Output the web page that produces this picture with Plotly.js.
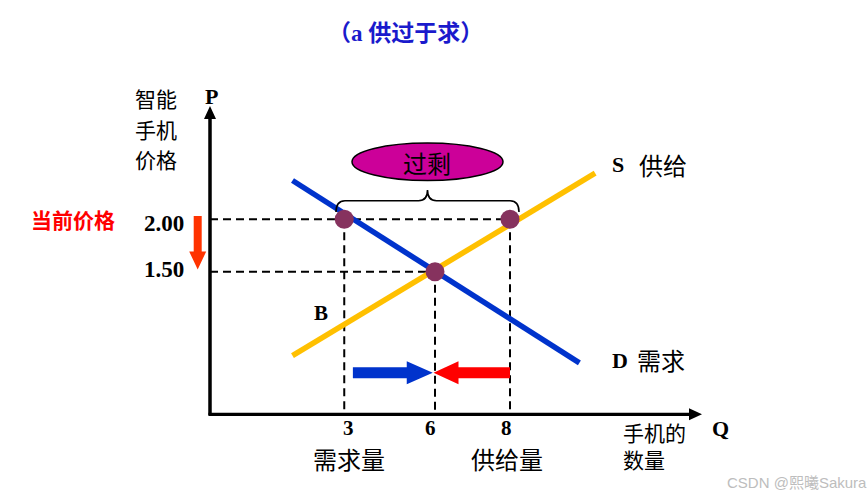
<!DOCTYPE html>
<html><head><meta charset="utf-8">
<script src="https://cdn.plot.ly/plotly-3.0.1.min.js"></script>
<style>html,body{margin:0;padding:0;background:#fff;}#chart{width:867px;height:498px;}</style>
</head><body><div id="chart"></div>
<script>
// ---- Data ----
const priceTickText = ['2.00', '1.50'];
const priceValues = [2.00, 1.50];          // current price, equilibrium price
const qTickText = ['3', '6', '8'];
const qValues = [3.58, 6, 8];              // quantity demanded, equilibrium quantity, quantity supplied (as drawn)
const demandX = [2.2, 9.85];
const demandY = [2.37, 0.63];
const supplyX = [2.2, 10.27];
const supplyY = [0.70, 2.44];
const pointX = [qValues[0], qValues[1], qValues[2]];
const pointY = [priceValues[0], priceValues[1], priceValues[0]];

// ---- Scale (full-figure plot area) ----
const W = 867, H = 498;
const XR = [-5.6, 17.52], YR = [-0.659, 4.0925];
const toPx = x => (x - XR[0]) / (XR[1] - XR[0]) * W;
const toPy = y => (YR[1] - y) / (YR[1] - YR[0]) * H;
const fromPx = px => XR[0] + px / W * (XR[1] - XR[0]);
const fromPy = py => YR[1] - py / H * (YR[1] - YR[0]);
const axisX0 = 0, axisY0 = fromPy(414.3);
const axisXEnd = fromPx(702), axisYEnd = fromPy(106);

// arrow polygon (data coords) from (x1,y1) to tip (x2,y2), sizes in px
function arrowPath(x1, y1, x2, y2, sh, hh, hl) {
  const a = [toPx(x1), toPy(y1)], b = [toPx(x2), toPy(y2)];
  const dx = b[0] - a[0], dy = b[1] - a[1], L = Math.hypot(dx, dy);
  const ux = dx / L, uy = dy / L, nx = -uy, ny = ux;
  const bx = b[0] - ux * hl, by = b[1] - uy * hl;
  const pts = [
    [a[0] + nx * sh, a[1] + ny * sh], [bx + nx * sh, by + ny * sh], [bx + nx * hh, by + ny * hh],
    b, [bx - nx * hh, by - ny * hh], [bx - nx * sh, by - ny * sh], [a[0] - nx * sh, a[1] - ny * sh]
  ];
  return 'M' + pts.map(p => fromPx(p[0]).toFixed(4) + ',' + fromPy(p[1]).toFixed(4)).join('L') + 'Z';
}

const serif = 'Liberation Serif, Times New Roman, Noto Sans CJK SC, serif';
const cjk = 'Noto Sans CJK SC, Liberation Serif, serif';

function ann(text, px, py, size, color, extra) {
  return Object.assign({
    text: text, xref: 'paper', yref: 'paper', x: px / W, y: 1 - py / H,
    xanchor: 'center', yanchor: 'middle', showarrow: false,
    font: { family: cjk, size: size, color: color || '#000' }
  }, extra || {});
}

const dash = { color: '#000', width: 2, dash: '8px,5px' };
const shapes = [];
// dashed guides
shapes.push({ type: 'line', layer: 'below', x0: axisX0, x1: qValues[2], y0: priceValues[0], y1: priceValues[0], line: dash });
shapes.push({ type: 'line', layer: 'below', x0: axisX0, x1: qValues[1], y0: priceValues[1], y1: priceValues[1], line: dash });
shapes.push({ type: 'line', layer: 'below', x0: qValues[0], x1: qValues[0], y0: priceValues[0], y1: axisY0, line: dash });
shapes.push({ type: 'line', layer: 'below', x0: qValues[1], x1: qValues[1], y0: priceValues[1], y1: axisY0, line: dash });
shapes.push({ type: 'line', layer: 'below', x0: qValues[2], x1: qValues[2], y0: priceValues[0], y1: axisY0, line: dash });
// axes with arrowheads
shapes.push({ type: 'path', path: arrowPath(axisX0, axisY0 - 0.01, axisX0, axisYEnd, 1.75, 6, 13), fillcolor: '#000', line: { width: 0 } });
shapes.push({ type: 'path', path: arrowPath(axisX0 - 0.04, axisY0, axisXEnd, axisY0, 1.6, 6, 13), fillcolor: '#000', line: { width: 0 } });
// movement arrows
const arrowP = fromPy(372.7);
shapes.push({ type: 'path', path: arrowPath(qValues[0] + 0.23, arrowP, qValues[1] - 0.06, arrowP, 5.5, 11.5, 26), fillcolor: '#0033CC', line: { width: 0 } });
shapes.push({ type: 'path', path: arrowPath(qValues[2], arrowP, qValues[1] - 0.04, arrowP, 5.5, 11.5, 25), fillcolor: '#FF0000', line: { width: 0 } });
// price falling arrow
const dnX = fromPx(197.7);
shapes.push({ type: 'path', path: arrowPath(dnX, fromPy(216), dnX, fromPy(269.5), 4, 8.5, 18), fillcolor: '#FF3300', line: { width: 0 } });
// surplus ellipse
const midQ = (qValues[0] + qValues[2]) / 2;
shapes.push({ type: 'circle', x0: fromPx(352), x1: fromPx(503), y0: fromPy(180.5), y1: fromPy(143), fillcolor: '#CC0099', line: { color: '#000', width: 1.5 } });
// curly brace
(function () {
  const xl = fromPx(336), xr = fromPx(519), xm = fromPx(427.5);
  const yb = fromPy(212), yh = fromPy(200.7), yt = fromPy(190);
  const cx = 9 / 37.5;
  const p = `M${xl},${yb} Q${xl},${yh} ${xl + cx},${yh} L${xm - cx},${yh} Q${xm},${yh} ${xm},${yt} Q${xm},${yh} ${xm + cx},${yh} L${xr - cx},${yh} Q${xr},${yh} ${xr},${yb}`;
  shapes.push({ type: 'path', path: p, line: { color: '#000', width: 1.6 } });
})();

const traces = [
  { x: supplyX, y: supplyY, mode: 'lines', line: { color: '#FFC000', width: 5.5 }, hoverinfo: 'skip' },
  { x: demandX, y: demandY, mode: 'lines', line: { color: '#0033CC', width: 5.5 }, hoverinfo: 'skip' },
  { x: pointX, y: pointY, mode: 'markers', marker: { color: '#86325E', size: 19 }, hoverinfo: 'skip' }
];

const annotations = [
  ann('（a 供过于求）', 405, 33, 23, '#1A1ACC', { font: { family: serif, size: 23, color: '#1A1ACC', weight: 'bold' } }),
  ann('智能', 156, 98, 21), ann('手机', 156, 128.5, 21), ann('价格', 156, 159, 21),
  ann('<b>P</b>', 211, 97, 22, '#000', { font: { family: serif, size: 22, color: '#000' } }),
  ann('<b>当前价格</b>', 73, 218.5, 21, '#FF0000'),
  ann('<b>' + priceTickText[0] + '</b>', 186, toPy(priceValues[0]) + 4, 23, '#000', { xanchor: 'right', font: { family: serif, size: 23, color: '#000' } }),
  ann('<b>' + priceTickText[1] + '</b>', 186, toPy(priceValues[1]) - 2, 23, '#000', { xanchor: 'right', font: { family: serif, size: 23, color: '#000' } }),
  ann('过剩', (toPx(midQ)), 162, 24, '#000'),
  ann('<b>B</b>', 321, 313, 21, '#000', { font: { family: serif, size: 21, color: '#000' } }),
  ann('<b>S</b>', 618, 164, 22, '#000', { font: { family: serif, size: 22, color: '#000' } }),
  ann('供给', 663, 164, 24),
  ann('<b>D</b>', 620, 360, 22, '#000', { font: { family: serif, size: 22, color: '#000' } }),
  ann('需求', 661, 359, 24),
  ann('<b>' + qTickText[0] + '</b>', 348.5, 428, 21, '#000', { font: { family: serif, size: 21, color: '#000' } }),
  ann('<b>' + qTickText[1] + '</b>', 430, 428, 21, '#000', { font: { family: serif, size: 21, color: '#000' } }),
  ann('<b>' + qTickText[2] + '</b>', 507, 428, 21, '#000', { font: { family: serif, size: 21, color: '#000' } }),
  ann('需求量', 349, 458, 24), ann('供给量', 507, 458, 24),
  ann('<b>Q</b>', 720, 428, 22, '#000', { font: { family: serif, size: 22, color: '#000' } }),
  ann('手机的<br>数量', 621, 445, 21, '#000', { xanchor: 'left', align: 'left' }),
  ann('CSDN @熙曦Sakura', 869, 482, 15, '#BDBDBD', { xanchor: 'right', font: { family: 'Liberation Sans, Arial, Noto Sans CJK SC, sans-serif', size: 15, color: '#BDBDBD' } })
];

const layout = {
  width: W, height: H, margin: { l: 0, r: 0, t: 0, b: 0, pad: 0 },
  paper_bgcolor: '#fff', plot_bgcolor: '#fff', showlegend: false,
  xaxis: { range: XR, visible: false, fixedrange: true },
  yaxis: { range: YR, visible: false, fixedrange: true },
  shapes: shapes, annotations: annotations
};
Plotly.newPlot('chart', traces, layout, { staticPlot: true, displayModeBar: false });
</script></body></html>
